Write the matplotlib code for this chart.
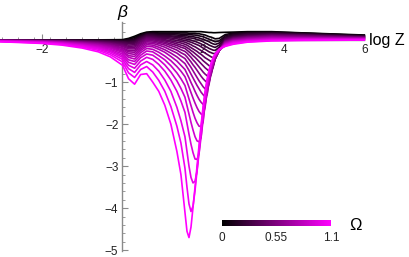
import matplotlib
matplotlib.use('Agg')
import matplotlib.pyplot as plt
import numpy as np
from matplotlib.colors import LinearSegmentedColormap

plt.rcParams['font.family'] = ['Liberation Sans', 'DejaVu Sans']

# log Z sample positions shared by every curve
log_z = [-3.05, -2.5, -2.0, -1.5, -1.0, -0.6, -0.3, 0.0, 0.15, 0.3, 0.45, 0.6, 0.75, 0.9,
         1.05, 1.2, 1.35, 1.45, 1.55, 1.6, 1.65, 1.7, 1.75, 1.8, 1.85, 1.9, 1.95, 2.0,
         2.05, 2.1, 2.15, 2.2, 2.25, 2.3, 2.4, 2.55, 2.75, 3.1, 3.7, 4.5, 6.0]

omega = [0.0, 0.05, 0.1, 0.15, 0.2, 0.25, 0.3, 0.35, 0.4, 0.45, 0.5, 0.55,
         0.6, 0.65, 0.7, 0.75, 0.8, 0.85, 0.9, 0.95, 1.0, 1.05, 1.1]

# beta(log Z), one list per Omega
beta_000 = [0.001, 0.001, 0.001, 0.002, 0.003, 0.005, 0.007, 0.01, 0.04, 0.09, 0.15, 0.19, 0.2, 0.2, 0.2, 0.2, 0.2, 0.2,
            0.2, 0.2, 0.2, 0.2, 0.2, 0.2, 0.2, 0.2, 0.2, 0.195, 0.19, 0.185, 0.18, 0.18, 0.175, 0.175, 0.18, 0.185, 0.19, 0.2, 0.2, 0.17, 0.12]
beta_005 = [0, 0, 0, 0, 0, 0, 0, 0.0, 0.02, 0.06, 0.13, 0.17, 0.18, 0.17, 0.17, 0.17, 0.17, 0.17,
            0.17, 0.17, 0.16, 0.16, 0.16, 0.16, 0.15, 0.15, 0.14, 0.13, 0.12, 0.1, 0.08, 0.07, 0.05, 0.03, 0.04, 0.13, 0.17, 0.185, 0.19, 0.165, 0.11]
beta_010 = [-0.001, -0.001, -0.001, -0.002, -0.003, -0.005, -0.007, -0.01, 0.0, 0.03, 0.11, 0.16, 0.17, 0.15, 0.15, 0.15, 0.15, 0.14,
            0.14, 0.14, 0.13, 0.13, 0.12, 0.12, 0.11, 0.10, 0.09, 0.08, 0.06, 0.04, 0.02, 0.0, -0.02, -0.04, -0.02, 0.1, 0.15, 0.17, 0.18, 0.16, 0.105]
beta_015 = [-0.001, -0.002, -0.003, -0.004, -0.006, -0.009, -0.013, -0.02, -0.01, 0.01, 0.09, 0.15, 0.15, 0.13, 0.13, 0.13, 0.12, 0.11,
            0.10, 0.10, 0.09, 0.09, 0.08, 0.07, 0.06, 0.05, 0.03, 0.02, 0.0, -0.02, -0.04, -0.07, -0.09, -0.105, -0.07, 0.07, 0.13, 0.16, 0.17, 0.15, 0.1]
beta_020 = [-0.002, -0.003, -0.004, -0.006, -0.01, -0.014, -0.02, -0.03, -0.03, -0.01, 0.07, 0.13, 0.13, 0.11, 0.11, 0.10, 0.09, 0.08,
            0.07, 0.06, 0.05, 0.05, 0.04, 0.03, 0.01, 0.0, -0.02, -0.04, -0.07, -0.09, -0.12, -0.14, -0.16, -0.175, -0.12, 0.05, 0.11, 0.15, 0.16, 0.14, 0.09]
beta_025 = [-0.003, -0.004, -0.005, -0.008, -0.013, -0.019, -0.027, -0.04, -0.05, -0.03, 0.05, 0.12, 0.11, 0.09, 0.09, 0.08, 0.06, 0.05,
            0.03, 0.02, 0.01, 0.0, -0.02, -0.03, -0.05, -0.07, -0.09, -0.12, -0.15, -0.17, -0.2, -0.22, -0.24, -0.245, -0.17, 0.03, 0.09, 0.13, 0.15, 0.13, 0.085]
beta_030 = [-0.003, -0.005, -0.007, -0.01, -0.016, -0.024, -0.034, -0.05, -0.07, -0.05, 0.03, 0.10, 0.09, 0.07, 0.06, 0.05, 0.03, 0.01,
            -0.01, -0.02, -0.04, -0.05, -0.07, -0.09, -0.11, -0.13, -0.16, -0.19, -0.22, -0.25, -0.28, -0.3, -0.32, -0.32, -0.2, 0.02, 0.08, 0.12, 0.14, 0.12, 0.08]
beta_035 = [-0.005, -0.007, -0.009, -0.014, -0.022, -0.033, -0.047, -0.07, -0.09, -0.08, 0.01, 0.08, 0.07, 0.05, 0.04, 0.02, -0.01, -0.03,
            -0.05, -0.07, -0.09, -0.11, -0.14, -0.16, -0.19, -0.22, -0.25, -0.28, -0.31, -0.34, -0.37, -0.4, -0.42, -0.4, -0.22, 0.0, 0.065, 0.1, 0.13, 0.115, 0.075]
beta_040 = [-0.006, -0.009, -0.012, -0.018, -0.029, -0.042, -0.06, -0.09, -0.12, -0.11, -0.02, 0.06, 0.05, 0.03, 0.01, -0.02, -0.05, -0.07,
            -0.1, -0.12, -0.15, -0.18, -0.21, -0.24, -0.27, -0.31, -0.34, -0.38, -0.42, -0.45, -0.48, -0.51, -0.52, -0.44, -0.24, -0.01, 0.055, 0.09, 0.12, 0.11, 0.07]
beta_045 = [-0.007, -0.011, -0.015, -0.022, -0.035, -0.052, -0.074, -0.11, -0.15, -0.14, -0.04, 0.04, 0.03, 0.01, -0.02, -0.05, -0.09, -0.12,
            -0.15, -0.18, -0.21, -0.25, -0.28, -0.32, -0.36, -0.4, -0.44, -0.49, -0.53, -0.57, -0.61, -0.635, -0.6, -0.45, -0.25, -0.02, 0.045, 0.08, 0.11, 0.1, 0.065]
beta_050 = [-0.009, -0.013, -0.017, -0.026, -0.042, -0.061, -0.087, -0.13, -0.18, -0.17, -0.07, 0.02, 0.01, -0.02, -0.05, -0.09, -0.13, -0.17,
            -0.2, -0.24, -0.28, -0.32, -0.37, -0.41, -0.46, -0.51, -0.56, -0.61, -0.66, -0.7, -0.74, -0.755, -0.64, -0.45, -0.25, -0.03, 0.035, 0.07, 0.1, 0.09, 0.06]
beta_055 = [-0.01, -0.015, -0.02, -0.03, -0.048, -0.071, -0.1, -0.15, -0.21, -0.21, -0.10, -0.01, -0.02, -0.05, -0.08, -0.13, -0.18, -0.23,
            -0.27, -0.31, -0.36, -0.41, -0.47, -0.52, -0.58, -0.64, -0.7, -0.76, -0.81, -0.85, -0.875, -0.82, -0.62, -0.44, -0.25, -0.04, 0.025, 0.06, 0.09, 0.08, 0.055]
beta_060 = [-0.012, -0.018, -0.024, -0.036, -0.058, -0.085, -0.121, -0.18, -0.25, -0.25, -0.13, -0.04, -0.05, -0.08, -0.12, -0.18, -0.24, -0.3,
            -0.35, -0.4, -0.46, -0.52, -0.59, -0.65, -0.72, -0.79, -0.86, -0.92, -0.97, -1.01, -1.0, -0.8, -0.6, -0.43, -0.25, -0.05, 0.015, 0.05, 0.08, 0.07, 0.05]
beta_065 = [-0.013, -0.02, -0.027, -0.04, -0.064, -0.094, -0.134, -0.20, -0.28, -0.29, -0.17, -0.07, -0.08, -0.12, -0.17, -0.24, -0.31, -0.38,
            -0.44, -0.51, -0.58, -0.65, -0.73, -0.81, -0.89, -0.97, -1.04, -1.11, -1.16, -1.18, -1.04, -0.77, -0.58, -0.42, -0.25, -0.06, 0.005, 0.04, 0.07, 0.06, 0.045]
beta_070 = [-0.015, -0.023, -0.031, -0.046, -0.074, -0.108, -0.154, -0.23, -0.32, -0.34, -0.21, -0.11, -0.12, -0.17, -0.23, -0.31, -0.4, -0.48,
            -0.56, -0.64, -0.72, -0.81, -0.9, -0.99, -1.08, -1.16, -1.24, -1.3, -1.35, -1.3, -0.99, -0.74, -0.56, -0.41, -0.25, -0.07, -0.005, 0.03, 0.06, 0.05, 0.04]
beta_075 = [-0.017, -0.026, -0.035, -0.052, -0.083, -0.122, -0.174, -0.26, -0.37, -0.39, -0.25, -0.15, -0.16, -0.22, -0.29, -0.39, -0.5, -0.6,
            -0.7, -0.8, -0.9, -1.01, -1.11, -1.22, -1.32, -1.41, -1.48, -1.53, -1.54, -1.27, -0.94, -0.71, -0.54, -0.4, -0.25, -0.08, -0.015, 0.02, 0.05, 0.045, 0.035]
beta_080 = [-0.019, -0.029, -0.039, -0.058, -0.093, -0.136, -0.194, -0.29, -0.41, -0.45, -0.30, -0.20, -0.22, -0.29, -0.38, -0.49, -0.63, -0.74,
            -0.87, -0.99, -1.12, -1.25, -1.38, -1.5, -1.61, -1.7, -1.76, -1.78, -1.6, -1.2, -0.9, -0.68, -0.52, -0.39, -0.24, -0.09, -0.025, 0.01, 0.04, 0.04, 0.03]
beta_085 = [-0.022, -0.033, -0.044, -0.066, -0.106, -0.155, -0.221, -0.33, -0.47, -0.51, -0.36, -0.26, -0.28, -0.37, -0.47, -0.61, -0.78, -0.92,
            -1.08, -1.24, -1.4, -1.56, -1.72, -1.86, -1.97, -2.05, -2.06, -1.95, -1.52, -1.15, -0.87, -0.66, -0.5, -0.38, -0.24, -0.1, -0.035, 0.0, 0.03, 0.03, 0.025]
beta_090 = [-0.025, -0.037, -0.049, -0.074, -0.118, -0.174, -0.248, -0.37, -0.53, -0.58, -0.42, -0.33, -0.36, -0.46, -0.59, -0.76, -0.97, -1.15,
            -1.36, -1.56, -1.76, -1.96, -2.14, -2.3, -2.4, -2.42, -2.32, -1.9, -1.45, -1.1, -0.84, -0.63, -0.48, -0.37, -0.23, -0.11, -0.045, -0.01, 0.02, 0.02, 0.02]
beta_095 = [-0.027, -0.041, -0.055, -0.082, -0.131, -0.193, -0.275, -0.41, -0.60, -0.67, -0.50, -0.41, -0.46, -0.58, -0.74, -0.95, -1.22, -1.45,
            -1.72, -1.98, -2.24, -2.48, -2.68, -2.83, -2.84, -2.7, -2.3, -1.8, -1.38, -1.05, -0.8, -0.6, -0.46, -0.36, -0.23, -0.12, -0.055, -0.02, 0.01, 0.015, 0.015]
beta_100 = [-0.031, -0.046, -0.061, -0.092, -0.147, -0.216, -0.31, -0.46, -0.68, -0.77, -0.59, -0.51, -0.59, -0.74, -0.95, -1.22, -1.6, -1.92,
            -2.3, -2.65, -3.0, -3.27, -3.40, -3.36, -3.12, -2.68, -2.18, -1.72, -1.32, -1.01, -0.77, -0.58, -0.45, -0.35, -0.23, -0.13, -0.07, -0.03, 0.0, 0.01, 0.01]
beta_105 = [-0.035, -0.052, -0.07, -0.104, -0.166, -0.244, -0.35, -0.52, -0.78, -0.89, -0.70, -0.63, -0.76, -0.96, -1.22, -1.58, -2.05, -2.45,
            -3.05, -3.5, -3.9, -4.08, -3.95, -3.58, -3.1, -2.6, -2.1, -1.65, -1.27, -0.97, -0.74, -0.56, -0.43, -0.34, -0.22, -0.14, -0.085, -0.04, -0.01, 0.0, 0.005]
beta_110 = [-0.04, -0.06, -0.08, -0.12, -0.19, -0.28, -0.40, -0.60, -0.92, -1.05, -0.82, -0.80, -1.0, -1.22, -1.55, -2.0, -2.65, -3.2,
            -4.1, -4.55, -4.70, -4.45, -3.98, -3.5, -3.0, -2.5, -2.02, -1.58, -1.22, -0.93, -0.71, -0.54, -0.42, -0.33, -0.22, -0.15, -0.10, -0.05, -0.02, -0.01, 0.0]

curves = [beta_000, beta_005, beta_010, beta_015, beta_020, beta_025, beta_030, beta_035,
          beta_040, beta_045, beta_050, beta_055, beta_060, beta_065, beta_070, beta_075,
          beta_080, beta_085, beta_090, beta_095, beta_100, beta_105, beta_110]

cbar_ticks = [0, 0.55, 1.1]

cmap = LinearSegmentedColormap.from_list('black_magenta', ['#000000', '#ff00ff'])
axis_grey = '#8a8a8a'

fig = plt.figure(figsize=(4.09, 2.57), dpi=100)
ax = fig.add_axes([0, 6 / 257, 1, 229 / 257])

for w, beta in zip(omega, curves):
    ax.plot(log_z, beta, color=cmap(w / max(omega)), lw=1.2, zorder=3,
            solid_joinstyle='round')

ax.set_xlim(-3.04, 7.11)
ax.set_ylim(-5.02, 0.43)

for side in ['top', 'right']:
    ax.spines[side].set_visible(False)
ax.spines['left'].set_position(('data', 0))
ax.spines['bottom'].set_position(('data', 0))
ax.spines['bottom'].set_bounds(-3.04, 6)
ax.spines['left'].set_bounds(-5.02, 0.43)
for side in ['left', 'bottom']:
    ax.spines[side].set_color(axis_grey)
    ax.spines[side].set_linewidth(1.0)

ax.set_xticks([-2, 2, 4, 6])
ax.set_xticklabels(['\u22122', '2', '4', '6'])
ax.set_xticks(np.arange(-3.0, 6.01, 0.4), minor=True)
ax.set_yticks([-5, -4, -3, -2, -1])
ax.set_yticklabels(['\u22125', '\u22124', '\u22123', '\u22122', '\u22121'])
ax.set_yticks(np.arange(-5.0, 0.41, 0.2), minor=True)
ax.tick_params(which='both', direction='in', color=axis_grey, labelsize=8.5, labelcolor='#222222')
ax.tick_params(which='major', length=4, width=0.8)
ax.tick_params(which='minor', length=2, width=0.6)
ax.tick_params(axis='x', pad=3)
ax.tick_params(axis='y', pad=3)

ax.text(6.12, 0, 'log Z', fontsize=11.5, ha='left', va='center')
fig.text(122 / 409, 1 - 13 / 257, '\u03b2', fontsize=12.5, style='italic', ha='center', va='center')

# colour bar legend
cax = fig.add_axes([222 / 409, 1 - 226 / 257, 109 / 409, 6 / 257])
cax.imshow(np.linspace(0, 1, 256)[None, :], cmap=cmap, aspect='auto')
cax.set_axis_off()
for t in cbar_ticks:
    fig.text((222 + 109 * t / max(cbar_ticks)) / 409, 1 - 238 / 257, f'{t:g}',
             fontsize=8.5, ha='center', va='center', color='#222222')
fig.text(355 / 409, 1 - 226 / 257, '\u03a9', fontsize=12, ha='center', va='center')

fig.savefig('out.png', dpi=100)
